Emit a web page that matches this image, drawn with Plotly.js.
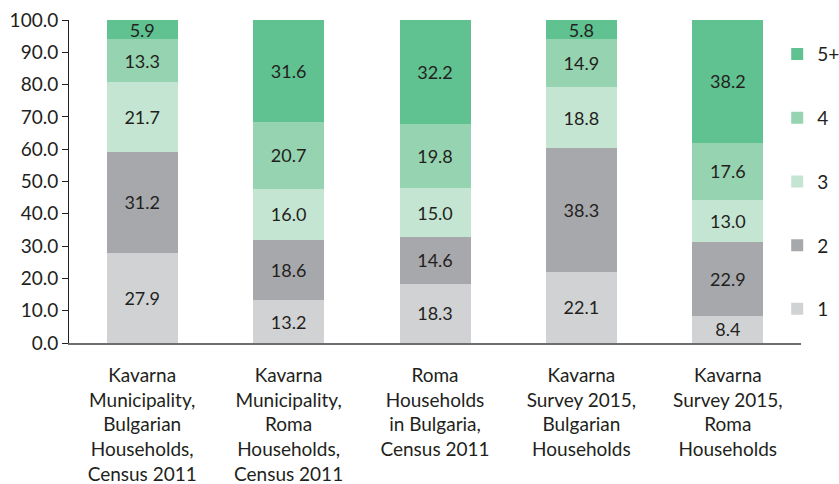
<!DOCTYPE html>
<html>
<head>
<meta charset="utf-8">
<script src="https://cdn.plot.ly/plotly-3.0.1.min.js"></script>
<style>html,body{margin:0;padding:0;background:#fff;}#chart{width:839px;height:484px;}</style>
</head>
<body>
<div id="chart"></div>
<script>
const categories = [
  "Kavarna<br>Municipality,<br>Bulgarian<br>Households,<br>Census 2011",
  "Kavarna<br>Municipality,<br>Roma<br>Households,<br>Census 2011",
  "Roma<br>Households<br>in Bulgaria,<br>Census 2011",
  "Kavarna<br>Survey 2015,<br>Bulgarian<br>Households",
  "Kavarna<br>Survey 2015,<br>Roma<br>Households"
];
const seriesNames = ["1", "2", "3", "4", "5+"];
const s1 = [27.9, 13.2, 18.3, 22.1, 8.4];
const s2 = [31.2, 18.6, 14.6, 38.3, 22.9];
const s3 = [21.7, 16.0, 15.0, 18.8, 13.0];
const s4 = [13.3, 20.7, 19.8, 14.9, 17.6];
const s5 = [5.9, 31.6, 32.2, 5.8, 38.2];
const yTickVals = [0, 10, 20, 30, 40, 50, 60, 70, 80, 90, 100];

const seriesValues = [s1, s2, s3, s4, s5];
const colors = ["#d1d2d4", "#a7a8ab", "#c5e5d3", "#96d3b0", "#60c291"];
const FONT = "Lato, 'Open Sans', sans-serif";
const TXT = "#231f20";

const traces = seriesValues.map((vals, i) => ({
  type: "bar",
  name: seriesNames[i],
  legendgroup: "g" + i,
  legendrank: 10 - i,
  x: categories,
  y: vals,
  marker: {color: colors[i], line: {width: 0}},
  texttemplate: "%{y:.1f}",
  textposition: "inside",
  insidetextanchor: "middle",
  textangle: 0,
  constraintext: "none",
  textfont: {family: FONT, size: 18, color: TXT},
  hoverinfo: "skip"
}));

const layout = {
  width: 839, height: 484,
  margin: {l: 69, r: 38, t: 20, b: 141, autoexpand: false},
  paper_bgcolor: "#fff", plot_bgcolor: "#fff",
  barmode: "stack",
  bargap: 0.515,
  showlegend: true,
  uniformtext: {mode: "show", minsize: 18},
  font: {family: FONT, size: 19, color: TXT},
  legend: {
    x: 0.9675, xanchor: "left", y: 0.953, yanchor: "top",
    traceorder: "grouped",
    tracegroupgap: 36,
    font: {family: FONT, size: 19, color: TXT},
    bgcolor: "rgba(0,0,0,0)"
  },
  xaxis: {
    showline: true, linecolor: "#6d6e71", linewidth: 2,
    ticks: "", showgrid: false, zeroline: false,
    ticklabelstandoff: 14,
    tickfont: {family: FONT, size: 19, color: TXT},
    fixedrange: true
  },
  yaxis: {
    range: [0, 100], tickvals: yTickVals, tickformat: ".1f",
    showline: true, linecolor: TXT, linewidth: 1,
    ticks: "outside", ticklen: 6, tickcolor: TXT, tickwidth: 1,
    showgrid: false, zeroline: false,
    tickfont: {family: FONT, size: 19, color: TXT},
    fixedrange: true
  }
};

Plotly.newPlot("chart", traces, layout, {displayModeBar: false, staticPlot: true});
</script>
</body>
</html>
